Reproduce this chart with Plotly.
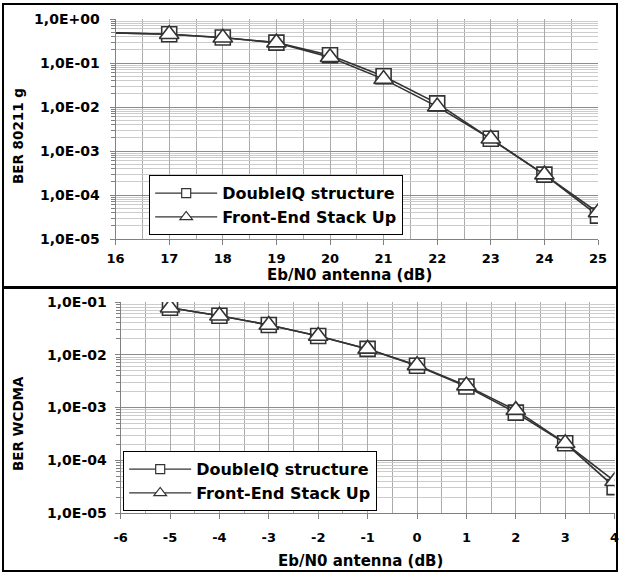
import plotly.graph_objects as go

# ---- data ----
x_wlan = [15, 17, 18, 19, 20, 21, 22, 23, 24, 25]
ber_wlan_dbl = [0.52, 0.45, 0.38, 0.29, 0.15, 0.050, 0.0121, 0.0019, 0.00029, 0.000034]
ber_wlan_fe = [0.52, 0.45, 0.376, 0.29, 0.135, 0.043, 0.0102, 0.0019, 0.00029, 0.000040]

x_wcdma = [-5, -4, -3, -2, -1, 0, 1, 2, 3, 4]
ber_wcdma_dbl = [0.078, 0.055, 0.0367, 0.0227, 0.0129, 0.0062, 0.0025, 0.00080, 0.00021, 0.000031]
ber_wcdma_fe = [0.078, 0.055, 0.0367, 0.0227, 0.0129, 0.0063, 0.0026, 0.00089, 0.00021, 0.000040]

names = ["DoubleIQ structure", "Front-End Stack Up"]
top_ticks = [1e0, 1e-1, 1e-2, 1e-3, 1e-4, 1e-5]
top_ticktext = ["1,0E+00", "1,0E-01", "1,0E-02", "1,0E-03", "1,0E-04", "1,0E-05"]
bot_ticks = [1e-1, 1e-2, 1e-3, 1e-4, 1e-5]
bot_ticktext = ["1,0E-01", "1,0E-02", "1,0E-03", "1,0E-04", "1,0E-05"]
top_xticks = [16, 17, 18, 19, 20, 21, 22, 23, 24, 25]
top_xticktext = ["16", "17", "18", "19", "20", "21", "22", "23", "24", "25"]
bot_xticks = [-6, -5, -4, -3, -2, -1, 0, 1, 2, 3, 4]
bot_xticktext = ["-6", "-5", "-4", "-3", "-2", "-1", "0", "1", "2", "3", "4"]

W, H = 621, 574
FONT = "DejaVu Sans, Verdana, sans-serif"
LINE = "#333333"

def px(x):
    return x / W

def py(y):
    return 1 - y / H

fig = go.Figure()

def add_series(xv, yv, sym, size, name, xa, ya, leg):
    fig.add_trace(go.Scatter(
        x=xv, y=yv, mode="lines+markers", name=name, showlegend=False,
        line=dict(color=LINE, width=1.6),
        marker=dict(symbol=sym, size=size, color="white",
                    line=dict(color=LINE, width=1.6)),
        xaxis=xa, yaxis=ya, cliponaxis=True))
    fig.add_trace(go.Scatter(
        x=[None], y=[None], mode="lines+markers", name=name, legend=leg,
        line=dict(color=LINE, width=1.2),
        marker=dict(symbol=sym, size=9 if sym == "square" else 11, color="white",
                    line=dict(color=LINE, width=1.2)),
        xaxis=xa, yaxis=ya))

add_series(x_wlan, ber_wlan_dbl, "square", 15, names[0], "x", "y", "legend")
add_series(x_wlan, ber_wlan_fe, "triangle-up", 17, names[1], "x", "y", "legend")
add_series(x_wcdma, ber_wcdma_dbl, "square", 15, names[0], "x2", "y2", "legend2")
add_series(x_wcdma, ber_wcdma_fe, "triangle-up", 17, names[1], "x2", "y2", "legend2")

def minor_vals(lo, hi):
    vals = []
    for e in range(lo, hi):
        for m in range(2, 10):
            vals.append(m * 10 ** e)
    return vals

xtickfont = dict(family=FONT, size=13, color="#000000", weight="bold")
ytickfont = dict(family=FONT, size=14, color="#000000", weight="bold")
common_x = dict(showgrid=True, gridcolor="#aaaaaa", gridwidth=1, zeroline=False,
                showline=True, linecolor="#808080", linewidth=1.2, automargin=False,
                ticks="outside", ticklen=5, tickcolor="#808080", tickfont=xtickfont,
                minor=dict(dtick=0.5, showgrid=True, gridcolor="#aaaaaa", gridwidth=1,
                           ticks="outside", ticklen=0, tickcolor="#808080"),
                mirror=False)
common_y = dict(type="log", showgrid=True, gridcolor="#8c8c8c", gridwidth=1, zeroline=False,
                showline=True, linecolor="#808080", linewidth=1.2, automargin=False,
                ticks="outside", ticklen=5, tickcolor="#808080", tickfont=ytickfont)

legfont = dict(family=FONT, size=16, color="#000000", weight="bold")

fig.update_layout(
    width=W, height=H, margin=dict(l=0, r=0, t=0, b=0, autoexpand=False),
    paper_bgcolor="white", plot_bgcolor="white",
    font=dict(family=FONT, color="#000000"),
    xaxis=dict(domain=[px(115.6), px(598)], range=[16, 25], tickvals=top_xticks,
               ticktext=top_xticktext, anchor="y", ticklabelstandoff=2, **common_x),
    yaxis=dict(domain=[py(239), py(19)], range=[-5, 0], tickvals=top_ticks,
               ticktext=top_ticktext, anchor="x", ticklabelstandoff=7,
               minor=dict(tickmode="array", tickvals=minor_vals(-5, 0), showgrid=True,
                          gridcolor="#cccccc", ticks="outside", ticklen=4,
                          tickcolor="#808080"),
               **common_y),
    xaxis2=dict(domain=[px(120.6), px(614.6)], range=[-6, 4], tickvals=bot_xticks,
                ticktext=bot_xticktext, anchor="y2", ticklabelstandoff=7, **common_x),
    yaxis2=dict(domain=[py(513), py(302)], range=[-5, -1], tickvals=bot_ticks,
                ticktext=bot_ticktext, anchor="x2", ticklabelstandoff=5,
                minor=dict(tickmode="array", tickvals=minor_vals(-5, -1), showgrid=True,
                           gridcolor="#cccccc", ticks="outside", ticklen=4,
                           tickcolor="#808080"),
                **common_y),
    legend=dict(x=px(149), y=py(175), xanchor="left", yanchor="top",
                bgcolor="white", bordercolor="#000000", borderwidth=1.2,
                font=legfont, itemwidth=62, tracegroupgap=0),
    legend2=dict(x=px(123), y=py(451), xanchor="left", yanchor="top",
                 bgcolor="white", bordercolor="#000000", borderwidth=1.2,
                 font=legfont, itemwidth=62, tracegroupgap=0),
)

# axis titles as annotations
tfont = dict(family=FONT, size=15, color="#000000", weight="bold")
yfont = dict(family=FONT, size=13.5, color="#000000", weight="bold")
fig.add_annotation(text="BER 80211 g", x=px(18), y=py(136), xref="paper", yref="paper",
                   xanchor="center", yanchor="middle",
                   textangle=-90, showarrow=False, font=yfont)
fig.add_annotation(text="BER WCDMA", x=px(18), y=py(424), xref="paper", yref="paper",
                   xanchor="center", yanchor="middle",
                   textangle=-90, showarrow=False, font=yfont)
fig.add_annotation(text="Eb/N0 antenna (dB)", x=px(350), y=py(274.5), xref="paper",
                   yref="paper", xanchor="center", yanchor="middle",
                   showarrow=False, font=tfont)
fig.add_annotation(text="Eb/N0 antenna (dB)", x=px(360), y=py(561), xref="paper",
                   yref="paper", xanchor="center", yanchor="middle",
                   showarrow=False, font=tfont)

# outer frames
fig.add_shape(type="rect", xref="paper", yref="paper", x0=px(3), x1=px(617), y0=py(287), y1=py(4),
              line=dict(color="#000000", width=2))
fig.add_shape(type="rect", xref="paper", yref="paper", x0=px(3), x1=px(617), y0=py(571), y1=py(288),
              line=dict(color="#000000", width=2))

fig.write_html("out.html", config={"displayModeBar": False},
               post_script="document.body.style.margin='0';document.body.style.overflow='hidden';")
